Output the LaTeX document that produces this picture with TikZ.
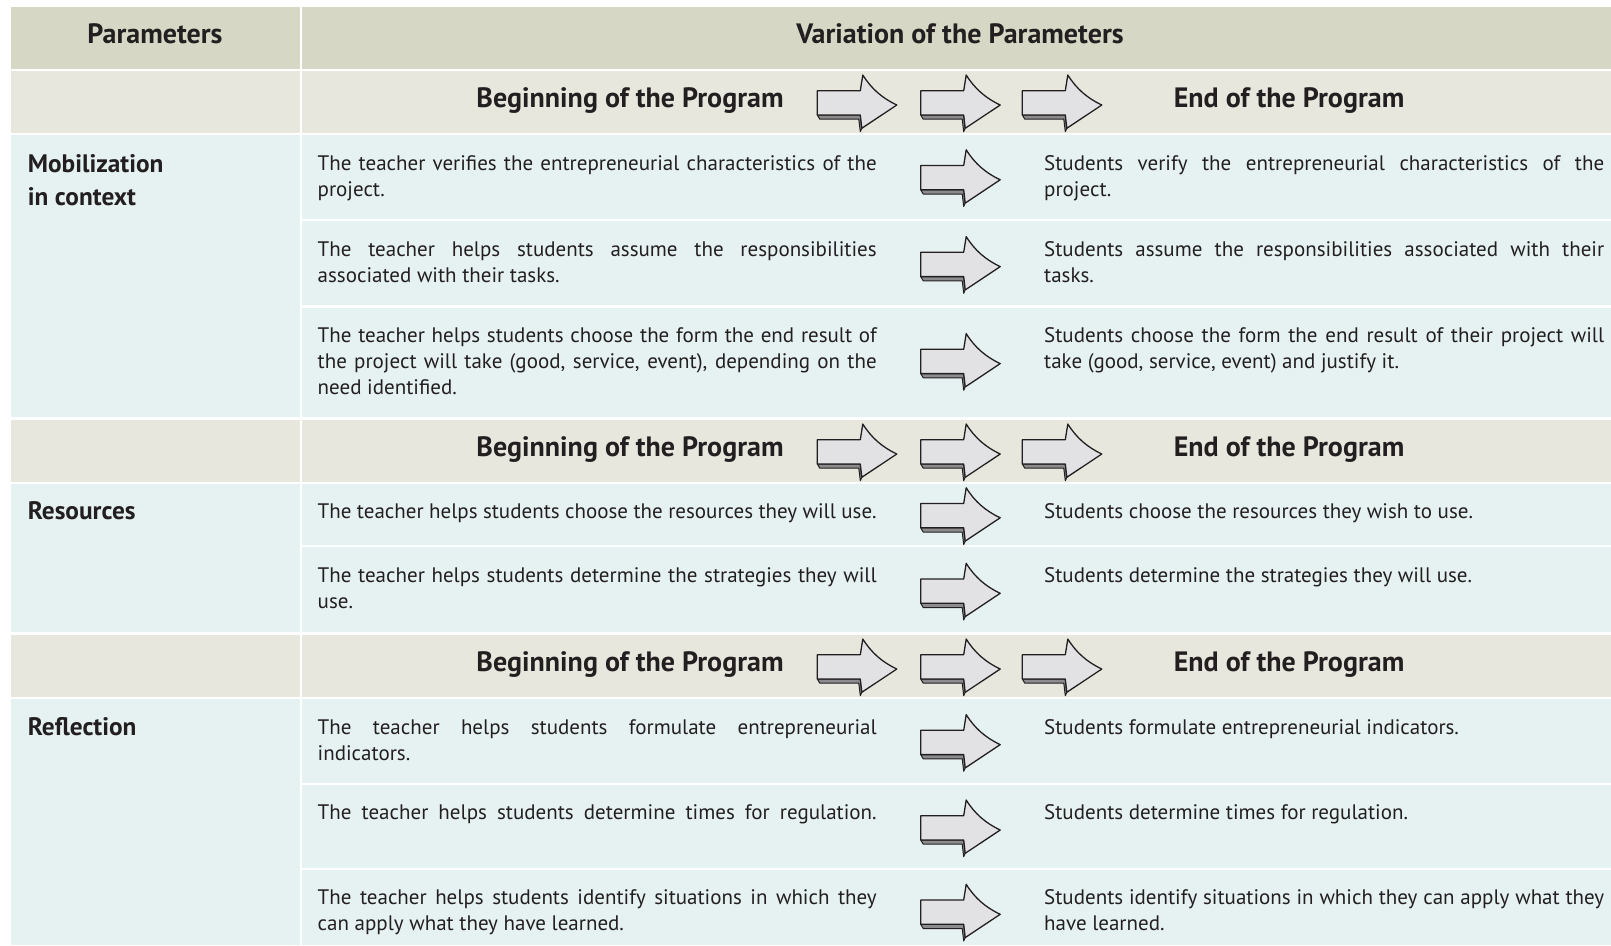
\documentclass[tikz,border=0pt]{standalone}
\usepackage{fontspec}
\setmainfont{PT Sans}
\definecolor{hdrcol}{RGB}{214,216,197}
\definecolor{begcol}{RGB}{231,231,221}
\definecolor{bodycol}{RGB}{230,242,242}
\definecolor{textcol}{RGB}{35,31,32}
\definecolor{arrowfill}{RGB}{226,226,228}
\definecolor{arrowshadow}{RGB}{140,140,142}
\newcommand{\bodyfnt}{\fontsize{21}{26}\selectfont\tolerance=9999\hbadness=10000}
\newcommand{\lcell}[1]{\parbox[t]{559pt}{#1}}
\newcommand{\rcell}[1]{\parbox[t]{560pt}{#1}}
\tikzset{
  cellt/.style={inner sep=0pt, anchor=base west, font=\bodyfnt, text=textcol},
  headt/.style={inner sep=0pt, anchor=base, font=\fontsize{28}{32}\selectfont\bfseries, text=textcol},
  begt/.style={inner sep=0pt, anchor=base, font=\fontsize{28}{32}\selectfont\bfseries, text=textcol},
  labt/.style={inner sep=0pt, anchor=base west, font=\fontsize{25.3}{33.5}\selectfont\bfseries, text=textcol},
  barrow/.pic={
    \filldraw[fill=arrowshadow, draw=textcol, line width=1pt, line join=round]
      (0,13.3) -- (43,13.3) -- (44.5,26.6) -- (43,30) -- (41.5,17.5) -- (2.5,17.5) -- cycle;
    \filldraw[fill=arrowfill, draw=textcol, line width=1.3pt, line join=round]
      (0,-11) -- (43,-11) -- (45.5,-26.7) .. controls (54,-13) and (65,-3.5) .. (79.5,3.3)
      -- (44.5,26.6) -- (43,13.3) -- (0,13.3) -- cycle;
  }
}
\begin{document}
\begin{tikzpicture}[x=1pt,y=-1pt]
\useasboundingbox[fill=white] (0,0) rectangle (1611,945);
% header row
\fill[hdrcol] (11,6.7) rectangle (300,68.7);
\fill[hdrcol] (301.5,6.7) rectangle (1611,68.7);
% beginning rows
\foreach \t/\b in {70.7/132.7, 419.7/481.7, 634.7/696.7}{
  \fill[begcol] (11,\t) rectangle (300,\b);
  \fill[begcol] (301.5,\t) rectangle (1611,\b);
}
% left tall cells
\fill[bodycol] (11,134.7) rectangle (300,416.7);
\fill[bodycol] (11,483.7) rectangle (300,632);
\fill[bodycol] (11,699.3) rectangle (300,945);
% right rows
\foreach \t/\b in {134.7/219, 221.3/305.3, 307.7/416.7, 483.7/545, 547.3/632, 699.3/783.3, 785.3/868, 870.3/945}{
  \fill[bodycol] (301.5,\t) rectangle (1611,\b);
}
% headers
\node[headt] (hpar) at (155,43.3) {Parameters};
\node[headt] (hvar) at (960,43.3) {Variation of the Parameters};
% beginning rows text and arrows
\foreach \y/\c [count=\i] in {107.3/101.7, 456.3/450.7, 671.3/665.7}{
  \node[begt] (beg\i) at (630,\y) {Beginning of the Program};
  \node[begt] (end\i) at (1289,\y) {End of the Program};
  \pic at (817.3,\c) {barrow};
  \pic at (920.7,\c) {barrow};
  \pic at (1022.3,\c) {barrow};
}
% left labels
\node[labt] (lmob) at (27.7,172.3) {\parbox[t]{260pt}{Mobilization\\in context}};
\node[labt] (lres) at (27.7,519.3) {Resources};
\node[labt] (lref) at (27.7,735.5) {Reflection};
% content arrows
\foreach \c in {176.5, 263.3, 360.3, 514.5, 590, 741.3, 826.7, 911}{
  \pic at (920.7,\c) {barrow};
}
% Mobilization rows
\node[cellt] (a1) at (317.5,170) {\lcell{The teacher verifies the entrepreneurial characteristics of the\linebreak project.}};
\node[cellt] (b1) at (1044,170) {\rcell{Students verify the entrepreneurial characteristics of the\linebreak project.}};
\node[cellt] (a2) at (317.5,256.3) {\lcell{The teacher helps students assume the responsibilities\linebreak associated with their tasks.}};
\node[cellt] (b2) at (1044,256.3) {\rcell{Students assume the responsibilities associated with their\linebreak tasks.}};
\node[cellt] (a3) at (317.5,342.5) {\lcell{The teacher helps students choose the form the end result of\linebreak the project will take (good, service, event), depending on the\linebreak need identified.}};
\node[cellt] (b3) at (1044,342.5) {\rcell{Students choose the form the end result of their project will\linebreak take (good, service, event) and justify it.}};
% Resources rows
\node[cellt] (a4) at (317.5,518.5) {\lcell{\parfillskip=0pt The teacher helps students choose the resources they will use.}};
\node[cellt] (b4) at (1044,518.5) {\rcell{Students choose the resources they wish to use.}};
\node[cellt] (a5) at (317.5,582.5) {\lcell{The teacher helps students determine the strategies they will\linebreak use.}};
\node[cellt] (b5) at (1044,582.5) {\rcell{Students determine the strategies they will use.}};
% Reflection rows
\node[cellt] (a6) at (317.5,734.5) {\lcell{The teacher helps students formulate entrepreneurial\linebreak indicators.}};
\node[cellt] (b6) at (1044,734.5) {\rcell{Students formulate entrepreneurial indicators.}};
\node[cellt] (a7) at (317.5,819.5) {\lcell{\parfillskip=0pt The teacher helps students determine times for regulation.}};
\node[cellt] (b7) at (1044,819.5) {\rcell{Students determine times for regulation.}};
\node[cellt] (a8) at (317.5,904.5) {\lcell{The teacher helps students identify situations in which they\linebreak can apply what they have learned.}};
\node[cellt] (b8) at (1044,904.5) {\rcell{Students identify situations in which they can apply what they\linebreak have learned.}};
\end{tikzpicture}
\end{document}
